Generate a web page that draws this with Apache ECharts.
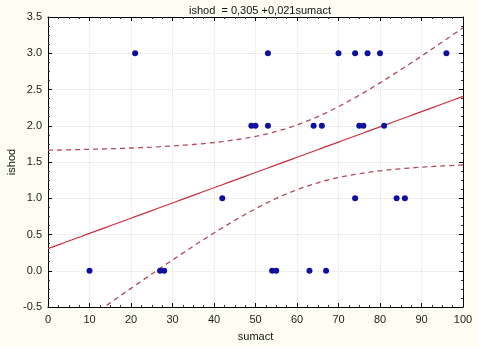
<!DOCTYPE html>
<html>
<head>
<meta charset="utf-8">
<script src="https://cdn.jsdelivr.net/npm/echarts@6/dist/echarts.min.js"></script>
<style>
  html, body { margin: 0; padding: 0; background: #fdfdf4; }
  #chart { width: 478px; height: 347px; }
</style>
</head>
<body>
<div id="chart"></div>
<script>
// Observations: sumact (x) and ishod (y)
const sumact = [21, 53, 70, 74, 77, 80, 96,
                49, 50, 53, 64, 66, 75, 76, 81,
                42, 74, 84, 86,
                10, 27, 28, 54, 55, 63, 67];
const ishod  = [3, 3, 3, 3, 3, 3, 3,
                2, 2, 2, 2, 2, 2, 2, 2,
                1, 1, 1, 1,
                0, 0, 0, 0, 0, 0, 0];

const titleText = 'ishod  = 0,305 +0,021sumact';
const xName = 'sumact';
const yName = 'ishod';
const tCrit = 2.0639; // Student t, 0.975 quantile, 24 df

// Least-squares fit and 95% confidence band for the mean
const n = sumact.length;
const mx = sumact.reduce((a, b) => a + b, 0) / n;
const my = ishod.reduce((a, b) => a + b, 0) / n;
let sxx = 0, sxy = 0, syy = 0;
for (let i = 0; i < n; i++) {
  sxx += (sumact[i] - mx) ** 2;
  sxy += (sumact[i] - mx) * (ishod[i] - my);
  syy += (ishod[i] - my) ** 2;
}
const slope = sxy / sxx;
const intercept = my - slope * mx;
const s = Math.sqrt((syy - slope * sxy) / (n - 2));

const fitLine = [], upper = [], lower = [];
for (let x = 0; x <= 100; x += 1) {
  const yh = intercept + slope * x;
  const hw = tCrit * s * Math.sqrt(1 / n + (x - mx) ** 2 / sxx);
  fitLine.push([x, yh]);
  upper.push([x, yh + hw]);
  lower.push([x, yh - hw]);
}

const font = 'Liberation Sans, Arial, sans-serif';
const axisLine = { show: true, onZero: false, lineStyle: { color: '#000', width: 1 } };
const tick = { show: true, inside: true, length: 4, lineStyle: { color: '#000' } };
const minorTick = { show: true, splitNumber: 4, length: 2, lineStyle: { color: '#333' } };
const grid = { show: true, lineStyle: { color: '#e2e2e2', type: 'dotted', width: 1 } };
const lbl = { color: '#222', fontFamily: font, fontSize: 11 };

const chart = echarts.init(document.getElementById('chart'), null, { renderer: 'canvas' });
chart.setOption({
  backgroundColor: '#fdfdf4',
  animation: false,
  title: {
    text: titleText, left: 255, top: 0, textAlign: 'center',
    textStyle: { fontFamily: font, fontSize: 11, fontWeight: 'normal', color: '#111' }
  },
  grid: {
    left: 48, right: 15, top: 17, bottom: 40, containLabel: false, outerBoundsMode: 'none',
    show: true, backgroundColor: '#ffffff', borderWidth: 0
  },
  xAxis: [{
    type: 'value', min: 0, max: 100, interval: 10,
    name: xName, nameLocation: 'middle', nameGap: 24, nameMoveOverlap: false,
    nameTextStyle: { fontFamily: font, fontSize: 11, color: '#111' },
    axisLine, axisTick: tick, minorTick, splitLine: grid,
    axisLabel: Object.assign({ margin: 7 }, lbl)
  }, {
    type: 'value', min: 0, max: 100, interval: 10, position: 'top',
    axisLine, axisTick: tick, minorTick, splitLine: { show: false },
    axisLabel: { show: false }
  }],
  yAxis: [{
    type: 'value', min: -0.5, max: 3.5, interval: 0.5,
    name: yName, nameLocation: 'middle', nameGap: 31, nameMoveOverlap: false,
    nameTextStyle: { fontFamily: font, fontSize: 11, color: '#111' },
    axisLine, axisTick: tick, minorTick, splitLine: grid,
    axisLabel: Object.assign({ margin: 6, formatter: v => v.toFixed(1) }, lbl)
  }, {
    type: 'value', min: -0.5, max: 3.5, interval: 0.5, position: 'right',
    axisLine, axisTick: tick, minorTick, splitLine: { show: false },
    axisLabel: { show: false }
  }],
  series: [{
    type: 'line', data: upper, showSymbol: false, clip: true,
    lineStyle: { color: '#b54a5c', width: 1.3, type: [5, 4] }
  }, {
    type: 'line', data: lower, showSymbol: false, clip: true,
    lineStyle: { color: '#b54a5c', width: 1.3, type: [5, 4] }
  }, {
    type: 'line', data: fitLine, showSymbol: false, clip: true,
    lineStyle: { color: '#c8313f', width: 1.2 }
  }, {
    type: 'scatter', data: sumact.map((x, i) => [x, ishod[i]]),
    symbolSize: 6, itemStyle: { color: '#1010a0', opacity: 1 }, z: 5
  }]
});
</script>
</body>
</html>
